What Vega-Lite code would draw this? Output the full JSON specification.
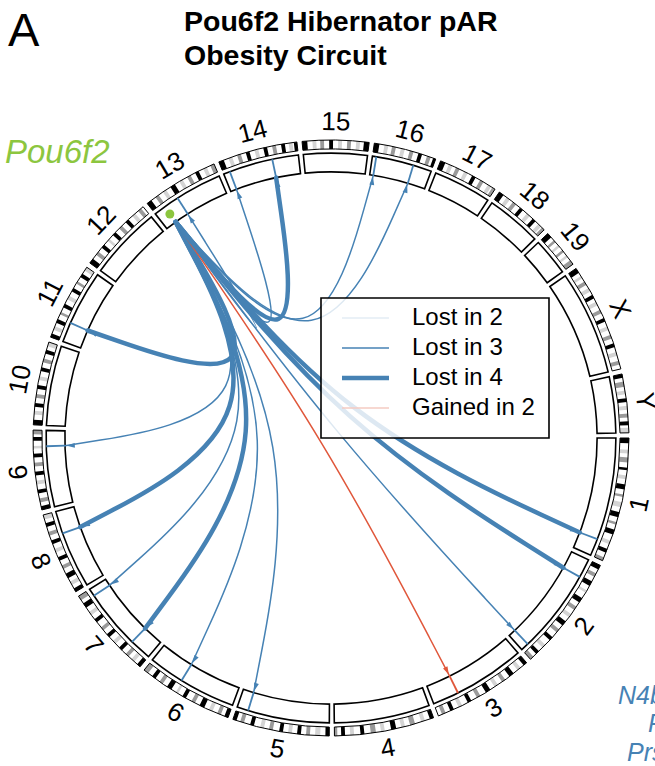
{
  "$schema": "https://vega.github.io/schema/vega-lite/v6.json",
  "width": 655,
  "height": 766,
  "autosize": {"type": "none"},
  "padding": 0,
  "background": "white",
  "config": {
    "view": {"stroke": null},
    "axis": {"disable": true},
    "legend": {"disable": true},
    "text": {"font": "Liberation Sans"}
  },
  "datasets": {
    "chroms": [
      {"chr": "1", "idx": 1, "len": 195.47, "offset": 0},
      {"chr": "2", "idx": 2, "len": 182.11, "offset": 195.47},
      {"chr": "3", "idx": 3, "len": 160.04, "offset": 377.58},
      {"chr": "4", "idx": 4, "len": 156.51, "offset": 537.62},
      {"chr": "5", "idx": 5, "len": 151.83, "offset": 694.13},
      {"chr": "6", "idx": 6, "len": 149.74, "offset": 845.96},
      {"chr": "7", "idx": 7, "len": 145.44, "offset": 995.70},
      {"chr": "8", "idx": 8, "len": 129.40, "offset": 1141.14},
      {"chr": "9", "idx": 9, "len": 124.60, "offset": 1270.54},
      {"chr": "10", "idx": 10, "len": 130.69, "offset": 1395.14},
      {"chr": "11", "idx": 11, "len": 122.08, "offset": 1525.83},
      {"chr": "12", "idx": 12, "len": 120.13, "offset": 1647.91},
      {"chr": "13", "idx": 13, "len": 120.42, "offset": 1768.04},
      {"chr": "14", "idx": 14, "len": 124.90, "offset": 1888.46},
      {"chr": "15", "idx": 15, "len": 104.04, "offset": 2013.36},
      {"chr": "16", "idx": 16, "len": 98.21, "offset": 2117.40},
      {"chr": "17", "idx": 17, "len": 94.99, "offset": 2215.61},
      {"chr": "18", "idx": 18, "len": 90.70, "offset": 2310.60},
      {"chr": "19", "idx": 19, "len": 61.43, "offset": 2401.30},
      {"chr": "X", "idx": 20, "len": 171.03, "offset": 2462.73},
      {"chr": "Y", "idx": 21, "len": 91.74, "offset": 2633.76}
    ],
    "bands": [
      {"chr":"1","s":0,"e":8,"g":100},{"chr":"1","s":18,"e":24,"g":33},{"chr":"1","s":30,"e":38,"g":66},{"chr":"1","s":46,"e":50,"g":100},{"chr":"1","s":58,"e":64,"g":33},{"chr":"1","s":72,"e":80,"g":100},{"chr":"1","s":88,"e":92,"g":66},{"chr":"1","s":100,"e":108,"g":33},{"chr":"1","s":116,"e":124,"g":100},{"chr":"1","s":132,"e":136,"g":66},{"chr":"1","s":144,"e":152,"g":100},{"chr":"1","s":162,"e":168,"g":33},{"chr":"1","s":176,"e":182,"g":100},{"chr":"1","s":190,"e":195.47,"g":66},
      {"chr":"2","s":0,"e":7,"g":100},{"chr":"2","s":14,"e":20,"g":66},{"chr":"2","s":28,"e":36,"g":100},{"chr":"2","s":44,"e":48,"g":33},{"chr":"2","s":58,"e":66,"g":100},{"chr":"2","s":74,"e":80,"g":66},{"chr":"2","s":88,"e":94,"g":33},{"chr":"2","s":102,"e":110,"g":100},{"chr":"2","s":118,"e":124,"g":66},{"chr":"2","s":134,"e":140,"g":100},{"chr":"2","s":150,"e":156,"g":33},{"chr":"2","s":164,"e":170,"g":100},{"chr":"2","s":176,"e":182.11,"g":66},
      {"chr":"3","s":0,"e":6,"g":100},{"chr":"3","s":12,"e":18,"g":33},{"chr":"3","s":26,"e":34,"g":100},{"chr":"3","s":42,"e":48,"g":66},{"chr":"3","s":56,"e":62,"g":33},{"chr":"3","s":70,"e":78,"g":100},{"chr":"3","s":88,"e":94,"g":66},{"chr":"3","s":104,"e":110,"g":100},{"chr":"3","s":120,"e":126,"g":33},{"chr":"3","s":134,"e":140,"g":100},{"chr":"3","s":148,"e":154,"g":66},
      {"chr":"4","s":0,"e":6,"g":100},{"chr":"4","s":14,"e":20,"g":33},{"chr":"4","s":30,"e":38,"g":66},{"chr":"4","s":46,"e":52,"g":33},{"chr":"4","s":60,"e":68,"g":100},{"chr":"4","s":78,"e":84,"g":33},{"chr":"4","s":92,"e":100,"g":66},{"chr":"4","s":110,"e":116,"g":100},{"chr":"4","s":126,"e":132,"g":33},{"chr":"4","s":140,"e":146,"g":100},{"chr":"4","s":152,"e":156.51,"g":66},
      {"chr":"5","s":0,"e":6,"g":100},{"chr":"5","s":14,"e":22,"g":33},{"chr":"5","s":30,"e":36,"g":66},{"chr":"5","s":44,"e":50,"g":100},{"chr":"5","s":58,"e":64,"g":33},{"chr":"5","s":72,"e":78,"g":100},{"chr":"5","s":88,"e":94,"g":66},{"chr":"5","s":102,"e":108,"g":33},{"chr":"5","s":118,"e":124,"g":100},{"chr":"5","s":134,"e":140,"g":66},{"chr":"5","s":146,"e":151.83,"g":100},
      {"chr":"6","s":0,"e":6,"g":100},{"chr":"6","s":12,"e":18,"g":66},{"chr":"6","s":26,"e":32,"g":33},{"chr":"6","s":40,"e":48,"g":100},{"chr":"6","s":56,"e":62,"g":66},{"chr":"6","s":72,"e":78,"g":100},{"chr":"6","s":86,"e":90,"g":33},{"chr":"6","s":98,"e":106,"g":100},{"chr":"6","s":114,"e":120,"g":66},{"chr":"6","s":128,"e":134,"g":100},{"chr":"6","s":142,"e":149.74,"g":66},
      {"chr":"7","s":0,"e":6,"g":100},{"chr":"7","s":12,"e":18,"g":33},{"chr":"7","s":24,"e":30,"g":66},{"chr":"7","s":38,"e":44,"g":100},{"chr":"7","s":52,"e":58,"g":33},{"chr":"7","s":66,"e":72,"g":100},{"chr":"7","s":80,"e":86,"g":66},{"chr":"7","s":96,"e":102,"g":100},{"chr":"7","s":110,"e":116,"g":33},{"chr":"7","s":124,"e":132,"g":100},{"chr":"7","s":138,"e":145.44,"g":66},
      {"chr":"8","s":0,"e":6,"g":100},{"chr":"8","s":12,"e":18,"g":33},{"chr":"8","s":24,"e":32,"g":100},{"chr":"8","s":40,"e":46,"g":66},{"chr":"8","s":54,"e":60,"g":100},{"chr":"8","s":68,"e":74,"g":33},{"chr":"8","s":82,"e":88,"g":100},{"chr":"8","s":96,"e":102,"g":66},{"chr":"8","s":110,"e":116,"g":100},{"chr":"8","s":122,"e":129.4,"g":33},
      {"chr":"9","s":0,"e":6,"g":100},{"chr":"9","s":12,"e":18,"g":66},{"chr":"9","s":26,"e":32,"g":100},{"chr":"9","s":40,"e":46,"g":33},{"chr":"9","s":54,"e":60,"g":100},{"chr":"9","s":68,"e":74,"g":66},{"chr":"9","s":82,"e":88,"g":100},{"chr":"9","s":96,"e":100,"g":33},{"chr":"9","s":108,"e":114,"g":100},{"chr":"9","s":118,"e":124.6,"g":66},
      {"chr":"10","s":0,"e":8,"g":100},{"chr":"10","s":16,"e":22,"g":33},{"chr":"10","s":28,"e":34,"g":100},{"chr":"10","s":42,"e":48,"g":66},{"chr":"10","s":56,"e":62,"g":100},{"chr":"10","s":70,"e":76,"g":33},{"chr":"10","s":84,"e":90,"g":100},{"chr":"10","s":98,"e":104,"g":66},{"chr":"10","s":112,"e":118,"g":100},{"chr":"10","s":124,"e":130.69,"g":33},
      {"chr":"11","s":0,"e":6,"g":100},{"chr":"11","s":12,"e":18,"g":33},{"chr":"11","s":24,"e":30,"g":100},{"chr":"11","s":38,"e":42,"g":66},{"chr":"11","s":50,"e":56,"g":100},{"chr":"11","s":64,"e":70,"g":33},{"chr":"11","s":78,"e":84,"g":100},{"chr":"11","s":92,"e":96,"g":66},{"chr":"11","s":104,"e":110,"g":100},{"chr":"11","s":116,"e":122.08,"g":33},
      {"chr":"12","s":0,"e":8,"g":100},{"chr":"12","s":16,"e":22,"g":66},{"chr":"12","s":30,"e":36,"g":100},{"chr":"12","s":44,"e":48,"g":33},{"chr":"12","s":56,"e":62,"g":100},{"chr":"12","s":70,"e":76,"g":66},{"chr":"12","s":84,"e":90,"g":100},{"chr":"12","s":98,"e":104,"g":33},{"chr":"12","s":110,"e":116,"g":66},
      {"chr":"13","s":0,"e":8,"g":100},{"chr":"13","s":16,"e":22,"g":66},{"chr":"13","s":30,"e":36,"g":33},{"chr":"13","s":44,"e":52,"g":100},{"chr":"13","s":60,"e":66,"g":33},{"chr":"13","s":74,"e":80,"g":66},{"chr":"13","s":88,"e":94,"g":100},{"chr":"13","s":102,"e":108,"g":33},{"chr":"13","s":114,"e":120.42,"g":66},
      {"chr":"14","s":0,"e":8,"g":100},{"chr":"14","s":16,"e":22,"g":33},{"chr":"14","s":30,"e":36,"g":66},{"chr":"14","s":44,"e":50,"g":100},{"chr":"14","s":58,"e":64,"g":33},{"chr":"14","s":72,"e":78,"g":100},{"chr":"14","s":86,"e":92,"g":66},{"chr":"14","s":100,"e":106,"g":100},{"chr":"14","s":112,"e":118,"g":33},{"chr":"14","s":120,"e":124.9,"g":100},
      {"chr":"15","s":0,"e":8,"g":100},{"chr":"15","s":16,"e":22,"g":33},{"chr":"15","s":28,"e":34,"g":66},{"chr":"15","s":42,"e":48,"g":100},{"chr":"15","s":56,"e":62,"g":33},{"chr":"15","s":70,"e":76,"g":66},{"chr":"15","s":84,"e":90,"g":33},{"chr":"15","s":96,"e":104.04,"g":100},
      {"chr":"16","s":0,"e":8,"g":100},{"chr":"16","s":16,"e":22,"g":33},{"chr":"16","s":28,"e":34,"g":66},{"chr":"16","s":42,"e":48,"g":33},{"chr":"16","s":56,"e":62,"g":66},{"chr":"16","s":70,"e":76,"g":100},{"chr":"16","s":84,"e":90,"g":66},{"chr":"16","s":94,"e":98.21,"g":100},
      {"chr":"17","s":0,"e":8,"g":100},{"chr":"17","s":14,"e":20,"g":33},{"chr":"17","s":26,"e":32,"g":66},{"chr":"17","s":40,"e":46,"g":33},{"chr":"17","s":54,"e":60,"g":100},{"chr":"17","s":68,"e":74,"g":66},{"chr":"17","s":82,"e":88,"g":33},{"chr":"17","s":90,"e":94.99,"g":66},
      {"chr":"18","s":0,"e":8,"g":100},{"chr":"18","s":14,"e":20,"g":33},{"chr":"18","s":26,"e":32,"g":66},{"chr":"18","s":40,"e":46,"g":100},{"chr":"18","s":54,"e":60,"g":33},{"chr":"18","s":66,"e":72,"g":100},{"chr":"18","s":78,"e":84,"g":33},{"chr":"18","s":86,"e":90.7,"g":66},
      {"chr":"19","s":0,"e":8,"g":100},{"chr":"19","s":14,"e":18,"g":66},{"chr":"19","s":24,"e":28,"g":33},{"chr":"19","s":34,"e":38,"g":66},{"chr":"19","s":44,"e":48,"g":33},{"chr":"19","s":54,"e":61.43,"g":66},
      {"chr":"X","s":0,"e":8,"g":100},{"chr":"X","s":14,"e":18,"g":33},{"chr":"X","s":24,"e":30,"g":66},{"chr":"X","s":36,"e":42,"g":33},{"chr":"X","s":48,"e":54,"g":100},{"chr":"X","s":60,"e":66,"g":33},{"chr":"X","s":74,"e":80,"g":66},{"chr":"X","s":88,"e":94,"g":100},{"chr":"X","s":102,"e":108,"g":33},{"chr":"X","s":116,"e":122,"g":66},{"chr":"X","s":130,"e":136,"g":100},{"chr":"X","s":144,"e":150,"g":33},{"chr":"X","s":158,"e":164,"g":66},
      {"chr":"Y","s":0,"e":6,"g":100},{"chr":"Y","s":12,"e":20,"g":66},{"chr":"Y","s":26,"e":32,"g":33},{"chr":"Y","s":38,"e":44,"g":100},{"chr":"Y","s":50,"e":56,"g":33},{"chr":"Y","s":62,"e":68,"g":66},{"chr":"Y","s":74,"e":80,"g":100},{"chr":"Y","s":84,"e":91.74,"g":33}
    ],
    "genes": [
      {"gene": "Pou6f2", "chr": "13", "pos": 19}
    ],
    "links": [
      {"src": "Pou6f2", "chr": "13", "pos": 44.1, "type": "Lost in 3"},
      {"src": "Pou6f2", "chr": "14", "pos": 10.5, "type": "Lost in 3"},
      {"src": "Pou6f2", "chr": "14", "pos": 82.1, "type": "Lost in 4"},
      {"src": "Pou6f2", "chr": "16", "pos": 6.3, "type": "Lost in 3"},
      {"src": "Pou6f2", "chr": "16", "pos": 67.7, "type": "Lost in 3"},
      {"src": "Pou6f2", "chr": "11", "pos": 32.5, "type": "Lost in 4"},
      {"src": "Pou6f2", "chr": "9", "pos": 99.0, "type": "Lost in 3"},
      {"src": "Pou6f2", "chr": "8", "pos": 92.5, "type": "Lost in 4"},
      {"src": "Pou6f2", "chr": "7", "pos": 132.8, "type": "Lost in 3"},
      {"src": "Pou6f2", "chr": "7", "pos": 35.8, "type": "Lost in 4"},
      {"src": "Pou6f2", "chr": "6", "pos": 91.8, "type": "Lost in 3"},
      {"src": "Pou6f2", "chr": "5", "pos": 133.2, "type": "Lost in 3"},
      {"src": "Pou6f2", "chr": "3", "pos": 117.1, "type": "Gained in 2"},
      {"src": "Pou6f2", "chr": "2", "pos": 168.9, "type": "Lost in 3"},
      {"src": "Pou6f2", "chr": "2", "pos": 31.1, "type": "Lost in 4"},
      {"src": "Pou6f2", "chr": "1", "pos": 167.2, "type": "Lost in 4"}
    ],
    "types": [
      {"type": "Lost in 2"},
      {"type": "Lost in 3"},
      {"type": "Lost in 4"},
      {"type": "Gained in 2"}
    ]
  },
  "layer": [
    {
      "data": {"name": "chroms"},
      "transform": [
        {"calculate": "datum.offset*339/2725.5+datum.idx-1", "as": "a0"},
        {"calculate": "datum.a0+datum.len*339/2725.5", "as": "a1"},
        {"calculate": "(datum.a0+90)*PI/180", "as": "t0"},
        {"calculate": "(datum.a1+90)*PI/180", "as": "t1"}
      ],
      "mark": {"type": "arc", "fill": "white", "stroke": null},
      "encoding": {
        "x": {"datum": 0, "type": "quantitative", "scale": {"domain": [-1.11074, 1.08725], "nice": false, "zero": false}},
        "y": {"datum": 0, "type": "quantitative", "scale": {"domain": [-1.4698, 1.10067], "nice": false, "zero": false, "reverse": true}},
        "theta": {"field": "t0", "type": "quantitative", "scale": null, "stack": null},
        "theta2": {"field": "t1"},
        "radius": {"datum": 1.0, "type": "quantitative", "scale": {"type": "linear", "domain": [0, 1], "range": [0, 298], "nice": false, "zero": true}},
        "radius2": {"datum": 0.97}
      }
    },
    {
      "data": {"name": "bands"},
      "transform": [
        {"lookup": "chr", "from": {"data": {"name": "chroms"}, "key": "chr", "fields": ["offset", "idx"]}},
        {"calculate": "((datum.offset+datum.s)*339/2725.5+datum.idx-1+90)*PI/180", "as": "t0"},
        {"calculate": "((datum.offset+datum.e)*339/2725.5+datum.idx-1+90)*PI/180", "as": "t1"}
      ],
      "mark": {"type": "arc", "stroke": null},
      "encoding": {
        "x": {"datum": 0, "type": "quantitative", "scale": {"domain": [-1.11074, 1.08725], "nice": false, "zero": false}},
        "y": {"datum": 0, "type": "quantitative", "scale": {"domain": [-1.4698, 1.10067], "nice": false, "zero": false, "reverse": true}},
        "theta": {"field": "t0", "type": "quantitative", "scale": null, "stack": null},
        "theta2": {"field": "t1"},
        "radius": {"datum": 1.0, "type": "quantitative", "scale": {"type": "linear", "domain": [0, 1], "range": [0, 298], "nice": false, "zero": true}},
        "radius2": {"datum": 0.97},
        "fill": {"field": "g", "type": "ordinal", "scale": {"type": "ordinal", "domain": [33, 66, 100], "range": ["#d4d4d4", "#9a9a9a", "#000000"]}}
      }
    },
    {
      "data": {"name": "chroms"},
      "transform": [
        {"calculate": "datum.offset*339/2725.5+datum.idx-1", "as": "a0"},
        {"calculate": "datum.a0+datum.len*339/2725.5", "as": "a1"},
        {"calculate": "(datum.a0+90)*PI/180", "as": "t0"},
        {"calculate": "(datum.a1+90)*PI/180", "as": "t1"}
      ],
      "mark": {"type": "arc", "fillOpacity": 0, "stroke": "black", "strokeWidth": 1},
      "encoding": {
        "x": {"datum": 0, "type": "quantitative", "scale": {"domain": [-1.11074, 1.08725], "nice": false, "zero": false}},
        "y": {"datum": 0, "type": "quantitative", "scale": {"domain": [-1.4698, 1.10067], "nice": false, "zero": false, "reverse": true}},
        "theta": {"field": "t0", "type": "quantitative", "scale": null, "stack": null},
        "theta2": {"field": "t1"},
        "radius": {"datum": 1.0, "type": "quantitative", "scale": {"type": "linear", "domain": [0, 1], "range": [0, 298], "nice": false, "zero": true}},
        "radius2": {"datum": 0.97}
      }
    },
    {
      "data": {"name": "chroms"},
      "transform": [
        {"calculate": "datum.offset*339/2725.5+datum.idx-1", "as": "a0"},
        {"calculate": "datum.a0+datum.len*339/2725.5", "as": "a1"},
        {"calculate": "(datum.a0+90)*PI/180", "as": "t0"},
        {"calculate": "(datum.a1+90)*PI/180", "as": "t1"}
      ],
      "mark": {"type": "arc", "fill": "white", "stroke": "black", "strokeWidth": 1.6},
      "encoding": {
        "x": {"datum": 0, "type": "quantitative", "scale": {"domain": [-1.11074, 1.08725], "nice": false, "zero": false}},
        "y": {"datum": 0, "type": "quantitative", "scale": {"domain": [-1.4698, 1.10067], "nice": false, "zero": false, "reverse": true}},
        "theta": {"field": "t0", "type": "quantitative", "scale": null, "stack": null},
        "theta2": {"field": "t1"},
        "radius": {"datum": 0.956, "type": "quantitative", "scale": {"type": "linear", "domain": [0, 1], "range": [0, 298], "nice": false, "zero": true}},
        "radius2": {"datum": 0.893}
      }
    },
    {
      "data": {"name": "links"},
      "transform": [
        {"lookup": "chr", "from": {"data": {"name": "chroms"}, "key": "chr", "fields": ["offset", "idx"]}, "as": ["toff", "tidx"]},
        {"calculate": "((datum.toff+datum.pos)*339/2725.5+datum.tidx-1)*PI/180", "as": "ta"},
        {"calculate": "0.893*cos(datum.ta)", "as": "kx0"},
        {"calculate": "0.893*sin(datum.ta)", "as": "ky0"},
        {"calculate": "0.956*cos(datum.ta)", "as": "kx1"},
        {"calculate": "0.956*sin(datum.ta)", "as": "ky1"}
      ],
      "mark": {"type": "rule", "strokeWidth": 1.8},
      "encoding": {
        "x": {"field": "kx0", "type": "quantitative", "scale": {"domain": [-1.11074, 1.08725], "nice": false, "zero": false}},
        "y": {"field": "ky0", "type": "quantitative", "scale": {"domain": [-1.4698, 1.10067], "nice": false, "zero": false, "reverse": true}},
        "x2": {"field": "kx1"},
        "y2": {"field": "ky1"},
        "color": {"field": "type", "type": "nominal", "scale": {"domain": ["Lost in 2", "Lost in 3", "Lost in 4", "Gained in 2"], "range": ["#c9dbec", "#4682b4", "#4682b4", "#e0573b"]}}
      }
    },
    {
      "data": {"name": "links"},
      "transform": [
        {"window": [{"op": "row_number", "as": "lid"}]},
        {"lookup": "chr", "from": {"data": {"name": "chroms"}, "key": "chr", "fields": ["offset", "idx"]}, "as": ["toff", "tidx"]},
        {"lookup": "src", "from": {"data": {"name": "genes"}, "key": "gene", "fields": ["chr", "pos"]}, "as": ["schr", "spos"]},
        {"lookup": "schr", "from": {"data": {"name": "chroms"}, "key": "chr", "fields": ["offset", "idx"]}, "as": ["soff", "sidx"]},
        {"calculate": "((datum.toff+datum.pos)*339/2725.5+datum.tidx-1)*PI/180", "as": "ta"},
        {"calculate": "((datum.soff+datum.spos)*339/2725.5+datum.sidx-1)*PI/180", "as": "sa"},
        {"calculate": "0.893*cos(datum.sa)", "as": "x0"},
        {"calculate": "0.893*sin(datum.sa)", "as": "y0"},
        {"calculate": "0.893*cos(datum.ta)", "as": "x2"},
        {"calculate": "0.893*sin(datum.ta)", "as": "y2"},
        {"calculate": "(datum.x0+datum.x2)/8", "as": "x1"},
        {"calculate": "(datum.y0+datum.y2)/8", "as": "y1"},
        {"fold": ["x0", "x1", "x2"], "as": ["step", "px"]},
        {"calculate": "datum.step === 'x0' ? 0 : (datum.step === 'x1' ? 1 : 2)", "as": "k"},
        {"calculate": "datum.k === 0 ? datum.y0 : (datum.k === 1 ? datum.y1 : datum.y2)", "as": "py"}
      ],
      "mark": {"type": "line", "interpolate": "basis", "strokeCap": "round"},
      "encoding": {
        "x": {"field": "px", "type": "quantitative", "scale": {"domain": [-1.11074, 1.08725], "nice": false, "zero": false}},
        "y": {"field": "py", "type": "quantitative", "scale": {"domain": [-1.4698, 1.10067], "nice": false, "zero": false, "reverse": true}},
        "detail": {"field": "lid", "type": "nominal"},
        "order": {"field": "k", "type": "quantitative"},
        "color": {"field": "type", "type": "nominal", "scale": {"domain": ["Lost in 2", "Lost in 3", "Lost in 4", "Gained in 2"], "range": ["#c9dbec", "#4682b4", "#4682b4", "#e0573b"]}},
        "strokeWidth": {"field": "type", "type": "nominal", "scale": {"type": "ordinal", "domain": ["Lost in 2", "Lost in 3", "Lost in 4", "Gained in 2"], "range": [1.2, 1.5, 4.5, 1.5]}}
      }
    },
    {
      "data": {"name": "links"},
      "transform": [
        {"lookup": "chr", "from": {"data": {"name": "chroms"}, "key": "chr", "fields": ["offset", "idx"]}, "as": ["toff", "tidx"]},
        {"calculate": "(datum.toff+datum.pos)*339/2725.5+datum.tidx-1", "as": "tdeg"},
        {"calculate": "0.872*cos(datum.tdeg*PI/180)", "as": "ax"},
        {"calculate": "0.872*sin(datum.tdeg*PI/180)", "as": "ay"},
        {"calculate": "datum.tdeg+90", "as": "rot"}
      ],
      "mark": {"type": "point", "shape": "M0,-1L0.55,0.8L-0.55,0.8Z", "filled": true, "size": 80, "opacity": 1},
      "encoding": {
        "x": {"field": "ax", "type": "quantitative", "scale": {"domain": [-1.11074, 1.08725], "nice": false, "zero": false}},
        "y": {"field": "ay", "type": "quantitative", "scale": {"domain": [-1.4698, 1.10067], "nice": false, "zero": false, "reverse": true}},
        "angle": {"field": "rot", "type": "quantitative", "scale": null},
        "color": {"field": "type", "type": "nominal", "scale": {"domain": ["Lost in 2", "Lost in 3", "Lost in 4", "Gained in 2"], "range": ["#c9dbec", "#4682b4", "#4682b4", "#e0573b"]}}
      }
    },
    {
      "data": {"name": "genes"},
      "transform": [
        {"lookup": "chr", "from": {"data": {"name": "chroms"}, "key": "chr", "fields": ["offset", "idx"]}},
        {"calculate": "((datum.offset+datum.pos)*339/2725.5+datum.idx-1)*PI/180", "as": "ga"},
        {"calculate": "0.926*cos(datum.ga)", "as": "gx"},
        {"calculate": "0.926*sin(datum.ga)", "as": "gy"}
      ],
      "mark": {"type": "point", "shape": "circle", "filled": true, "size": 80, "color": "#8cc63f", "opacity": 1},
      "encoding": {
        "x": {"field": "gx", "type": "quantitative", "scale": {"domain": [-1.11074, 1.08725], "nice": false, "zero": false}},
        "y": {"field": "gy", "type": "quantitative", "scale": {"domain": [-1.4698, 1.10067], "nice": false, "zero": false, "reverse": true}}
      }
    },
    {
      "data": {"values": [{}]},
      "mark": {"type": "rect", "fill": "white", "fillOpacity": 0.82, "stroke": "black", "strokeWidth": 1.6},
      "encoding": {
        "x": {"datum": -0.03356, "type": "quantitative", "scale": {"domain": [-1.11074, 1.08725], "nice": false, "zero": false}},
        "x2": {"datum": 0.73154},
        "y": {"datum": -0.4698, "type": "quantitative", "scale": {"domain": [-1.4698, 1.10067], "nice": false, "zero": false, "reverse": true}},
        "y2": {"datum": 0.0}
      }
    },
    {
      "data": {"name": "types"},
      "transform": [
        {"window": [{"op": "row_number", "as": "i"}]},
        {"calculate": "-0.40268+(datum.i-1)*0.10067", "as": "ly"}
      ],
      "mark": {"type": "rule"},
      "encoding": {
        "x": {"datum": 0.03691, "type": "quantitative", "scale": {"domain": [-1.11074, 1.08725], "nice": false, "zero": false}},
        "x2": {"datum": 0.19463},
        "y": {"field": "ly", "type": "quantitative", "scale": {"domain": [-1.4698, 1.10067], "nice": false, "zero": false, "reverse": true}},
        "stroke": {"field": "type", "type": "nominal", "scale": {"domain": ["Lost in 2", "Lost in 3", "Lost in 4", "Gained in 2"], "range": ["#d6e3f0", "#4682b4", "#4682b4", "#f4cbc2"]}},
        "strokeWidth": {"field": "type", "type": "nominal", "scale": {"type": "ordinal", "domain": ["Lost in 2", "Lost in 3", "Lost in 4", "Gained in 2"], "range": [1.2, 1.5, 4.5, 1.5]}}
      }
    },
    {
      "data": {"name": "types"},
      "transform": [
        {"window": [{"op": "row_number", "as": "i"}]},
        {"calculate": "-0.40268+(datum.i-1)*0.10067", "as": "ly"}
      ],
      "mark": {"type": "text", "align": "left", "baseline": "middle", "fontSize": 24, "color": "black"},
      "encoding": {
        "x": {"datum": 0.27181, "type": "quantitative", "scale": {"domain": [-1.11074, 1.08725], "nice": false, "zero": false}},
        "y": {"field": "ly", "type": "quantitative", "scale": {"domain": [-1.4698, 1.10067], "nice": false, "zero": false, "reverse": true}},
        "text": {"field": "type", "type": "nominal"}
      }
    },
    {
      "data": {"name": "chroms"},
      "transform": [
        {"calculate": "datum.offset*339/2725.5+datum.idx-1+datum.len*339/2725.5/2", "as": "am"},
        {"calculate": "1.06*cos(datum.am*PI/180)", "as": "lx"},
        {"calculate": "1.06*sin(datum.am*PI/180)", "as": "ly"},
        {"calculate": "(datum.am > 0 && datum.am < 180) ? datum.am - 90 : datum.am + 90", "as": "rot"}
      ],
      "mark": {"type": "text", "align": "center", "baseline": "middle", "fontSize": 26, "color": "black"},
      "encoding": {
        "x": {"field": "lx", "type": "quantitative", "scale": {"domain": [-1.11074, 1.08725], "nice": false, "zero": false}},
        "y": {"field": "ly", "type": "quantitative", "scale": {"domain": [-1.4698, 1.10067], "nice": false, "zero": false, "reverse": true}},
        "angle": {"field": "rot", "type": "quantitative", "scale": null},
        "text": {"field": "chr", "type": "nominal"}
      }
    },
    {
      "data": {"values": [{}]},
      "mark": {"type": "text", "align": "left", "baseline": "alphabetic", "fontSize": 47, "color": "black"},
      "encoding": {
        "x": {"datum": -1.08389, "type": "quantitative", "scale": {"domain": [-1.11074, 1.08725], "nice": false, "zero": false}},
        "y": {"datum": -1.31678, "type": "quantitative", "scale": {"domain": [-1.4698, 1.10067], "nice": false, "zero": false, "reverse": true}},
        "text": {"value": "A"}
      }
    },
    {
      "data": {"values": [{}]},
      "mark": {"type": "text", "align": "left", "baseline": "alphabetic", "fontSize": 28.5, "fontWeight": "bold", "lineHeight": 34, "color": "black"},
      "encoding": {
        "x": {"datum": -0.49329, "type": "quantitative", "scale": {"domain": [-1.11074, 1.08725], "nice": false, "zero": false}},
        "y": {"datum": -1.36577, "type": "quantitative", "scale": {"domain": [-1.4698, 1.10067], "nice": false, "zero": false, "reverse": true}},
        "text": {"value": ["Pou6f2 Hibernator pAR", "Obesity Circuit"]}
      }
    },
    {
      "data": {"name": "genes"},
      "mark": {"type": "text", "align": "left", "baseline": "alphabetic", "fontSize": 33, "fontStyle": "italic", "color": "#8cc63f"},
      "encoding": {
        "x": {"datum": -1.09396, "type": "quantitative", "scale": {"domain": [-1.11074, 1.08725], "nice": false, "zero": false}},
        "y": {"datum": -0.92282, "type": "quantitative", "scale": {"domain": [-1.4698, 1.10067], "nice": false, "zero": false, "reverse": true}},
        "text": {"field": "gene", "type": "nominal"}
      }
    },
    {
      "data": {"values": [{}]},
      "mark": {"type": "text", "align": "left", "baseline": "alphabetic", "fontSize": 25, "fontStyle": "italic", "color": "#4682b4"},
      "encoding": {
        "x": {"datum": 0.96309, "type": "quantitative", "scale": {"domain": [-1.11074, 1.08725], "nice": false, "zero": false}},
        "y": {"datum": 0.89262, "type": "quantitative", "scale": {"domain": [-1.4698, 1.10067], "nice": false, "zero": false, "reverse": true}},
        "text": {"value": "N4b"}
      }
    },
    {
      "data": {"values": [{}]},
      "mark": {"type": "text", "align": "left", "baseline": "alphabetic", "fontSize": 25, "fontStyle": "italic", "color": "#4682b4"},
      "encoding": {
        "x": {"datum": 1.06376, "type": "quantitative", "scale": {"domain": [-1.11074, 1.08725], "nice": false, "zero": false}},
        "y": {"datum": 0.98658, "type": "quantitative", "scale": {"domain": [-1.4698, 1.10067], "nice": false, "zero": false, "reverse": true}},
        "text": {"value": "P"}
      }
    },
    {
      "data": {"values": [{}]},
      "mark": {"type": "text", "align": "left", "baseline": "alphabetic", "fontSize": 25, "fontStyle": "italic", "color": "#4682b4"},
      "encoding": {
        "x": {"datum": 0.99329, "type": "quantitative", "scale": {"domain": [-1.11074, 1.08725], "nice": false, "zero": false}},
        "y": {"datum": 1.08389, "type": "quantitative", "scale": {"domain": [-1.4698, 1.10067], "nice": false, "zero": false, "reverse": true}},
        "text": {"value": "Prs"}
      }
    }
  ]
}
